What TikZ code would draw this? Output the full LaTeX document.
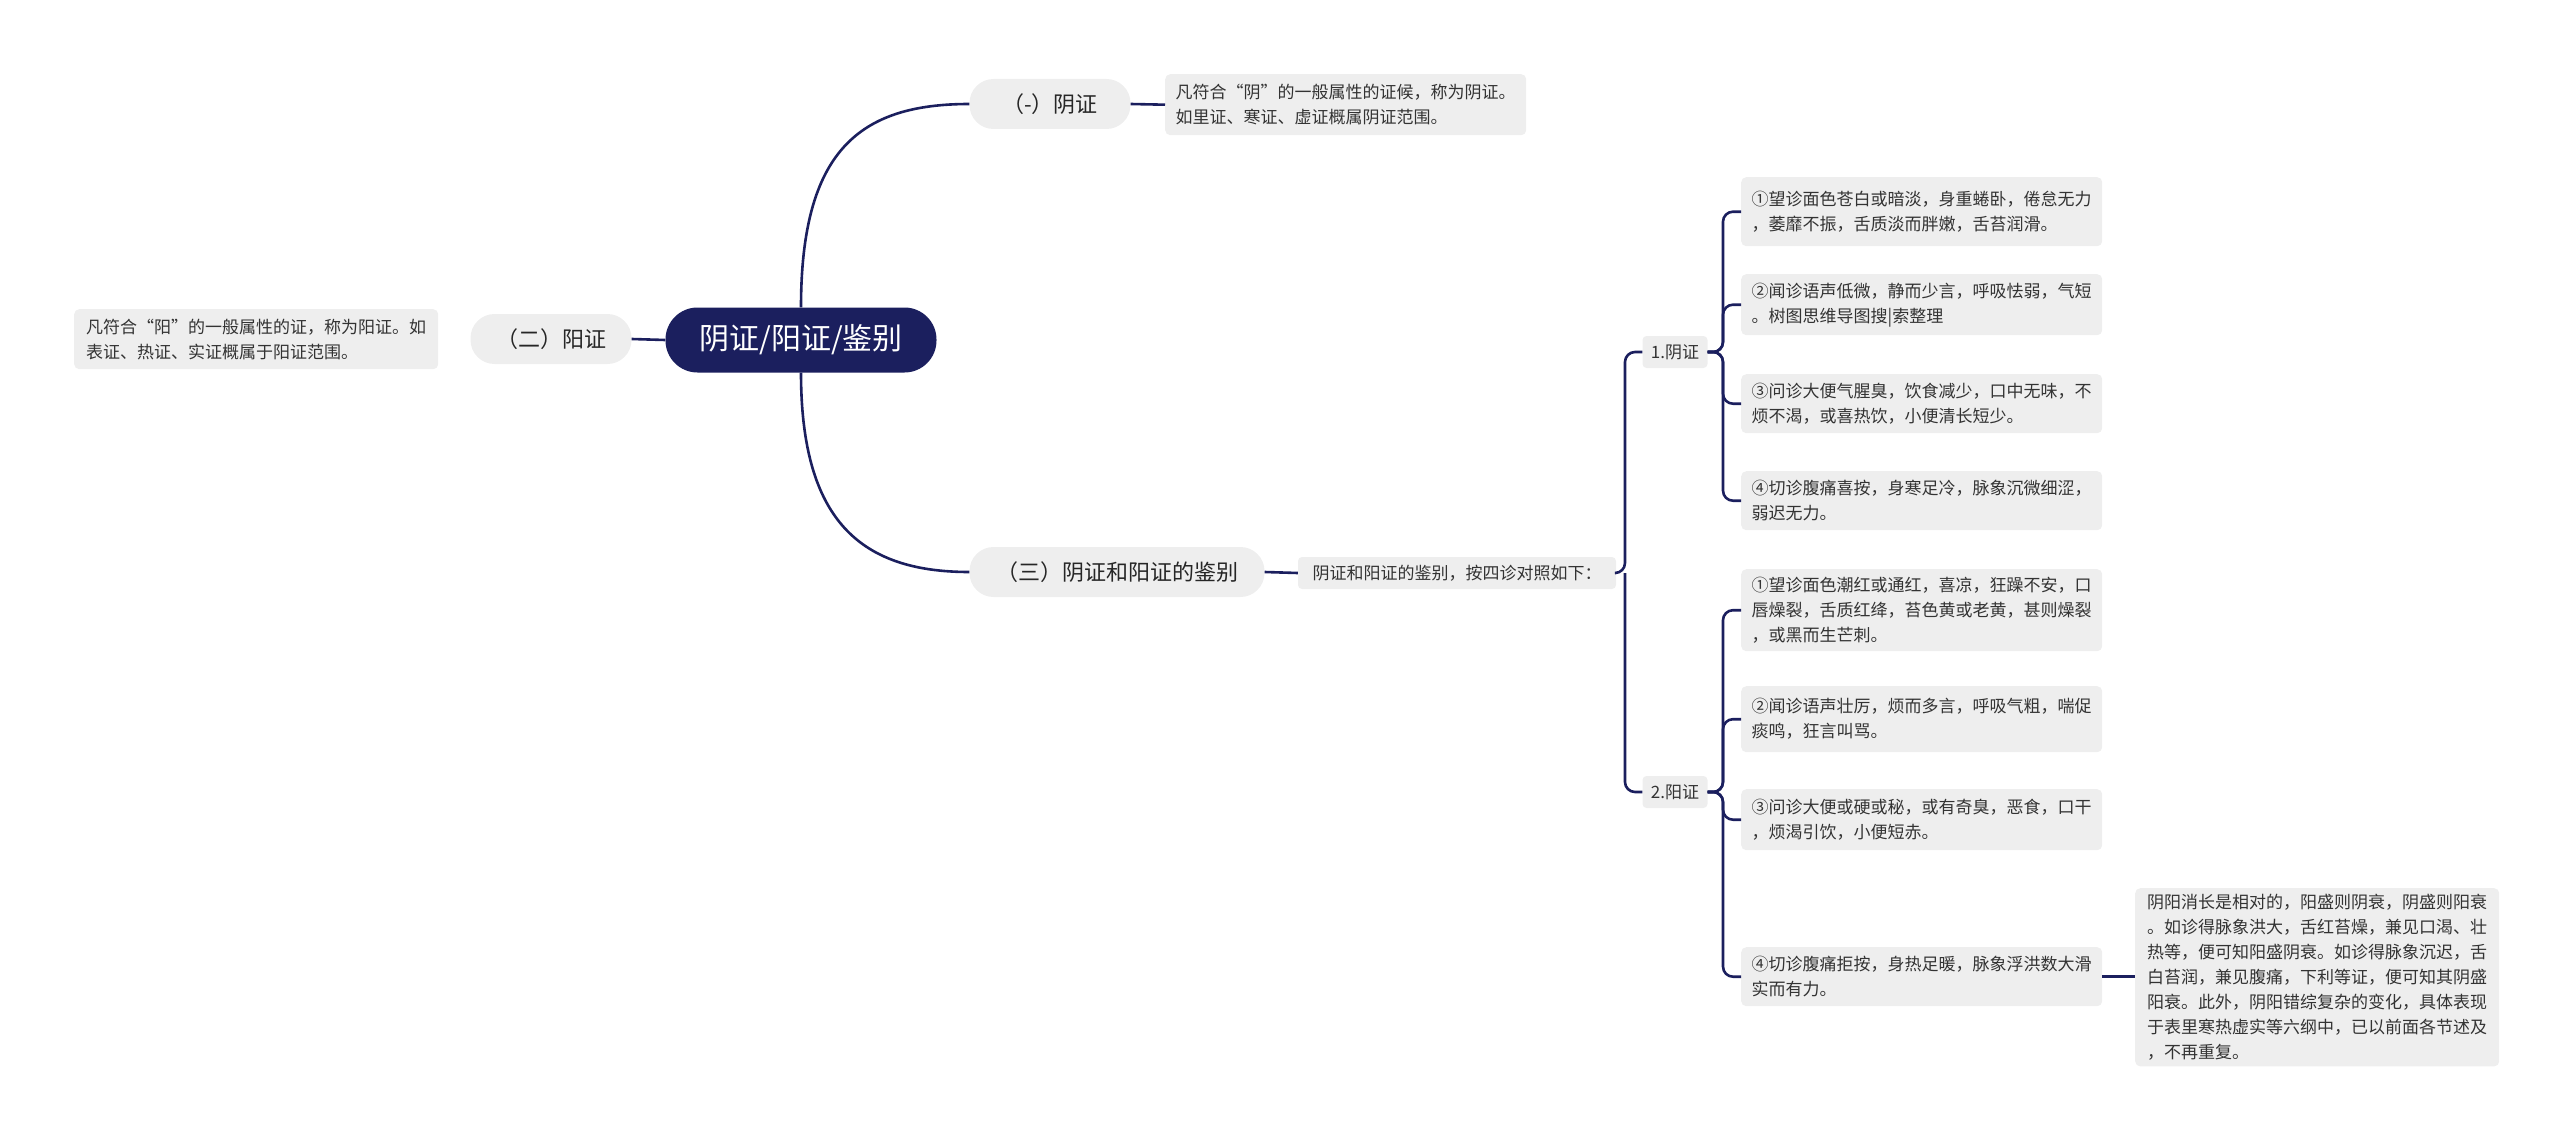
\documentclass[tikz,border=0pt]{standalone}
\usepackage{fontspec}
\setmainfont{Noto Sans CJK SC}
\begin{document}
\begin{tikzpicture}[x=1pt,y=-1pt,
  line/.style={draw=navy,line width=2.6pt},
  br/.style={line,rounded corners=10pt},
  leaf/.style={fill=boxg,rounded corners=5pt,font=\fontsize{17}{25}\selectfont,align=left,inner xsep=8pt,inner ysep=6pt,anchor=north west,text=black!80},
  sub/.style={fill=boxg,rounded corners=24pt,font=\fontsize{22}{26}\selectfont,minimum height=50pt,inner xsep=20pt,text=black!85},
  small/.style={fill=boxg,rounded corners=4pt,font=\fontsize{17}{20}\selectfont,inner xsep=7pt,minimum height=32pt,text=black!80}]
\definecolor{navy}{HTML}{1B1F5E}
\definecolor{boxg}{HTML}{EEEEEE}
\useasboundingbox (0,0) rectangle (2560,1129);
\node[fill=navy,rounded corners=32pt,minimum width=271pt,minimum height=65pt,text=white,font=\fontsize{30}{34}\selectfont] (root) at (801,340) {阴证/阳证/鉴别};
\node[sub,minimum width=161pt] (a) at (1050,104) {（-）阴证};
\node[sub,minimum width=161pt] (b) at (551,339) {（二）阳证};
\node[sub,minimum width=295pt] (c) at (1117,572) {（三）阴证和阳证的鉴别};
\node[leaf,minimum width=361pt,minimum height=61pt] (ad) at (1165,74) {凡符合“阴”的一般属性的证候，称为阴证。\\如里证、寒证、虚证概属阴证范围。};
\node[leaf,minimum width=364pt,minimum height=60pt] (bd) at (74,309) {凡符合“阳”的一般属性的证，称为阳证。如\\表证、热证、实证概属于阳证范围。};
\node[small,minimum width=318pt] (cd) at (1457,573) {阴证和阳证的鉴别，按四诊对照如下：};
\node[small,minimum width=65pt] (yin) at (1675,352) {1.阴证};
\node[small,minimum width=65pt] (yang) at (1675,792) {2.阳证};
\node[leaf,minimum width=361pt,minimum height=69pt] (y1) at (1741,177) {①望诊面色苍白或暗淡，身重蜷卧，倦怠无力\\，萎靡不振，舌质淡而胖嫩，舌苔润滑。};
\node[leaf,minimum width=361pt,minimum height=61pt] (y2) at (1741,274) {②闻诊语声低微，静而少言，呼吸怯弱，气短\\。树图思维导图搜|索整理};
\node[leaf,minimum width=361pt,minimum height=59pt] (y3) at (1741,374) {③问诊大便气腥臭，饮食减少，口中无味，不\\烦不渴，或喜热饮，小便清长短少。};
\node[leaf,minimum width=361pt,minimum height=59pt] (y4) at (1741,471) {④切诊腹痛喜按，身寒足冷，脉象沉微细涩，\\弱迟无力。};
\node[leaf,minimum width=361pt,minimum height=82pt] (z1) at (1741,569) {①望诊面色潮红或通红，喜凉，狂躁不安，口\\唇燥裂，舌质红绛，苔色黄或老黄，甚则燥裂\\，或黑而生芒刺。};
\node[leaf,minimum width=361pt,minimum height=66pt] (z2) at (1741,686) {②闻诊语声壮厉，烦而多言，呼吸气粗，喘促\\痰鸣，狂言叫骂。};
\node[leaf,minimum width=361pt,minimum height=61pt] (z3) at (1741,789) {③问诊大便或硬或秘，或有奇臭，恶食，口干\\，烦渴引饮，小便短赤。};
\node[leaf,minimum width=361pt,minimum height=59pt] (z4) at (1741,947) {④切诊腹痛拒按，身热足暖，脉象浮洪数大滑\\实而有力。};
\node[leaf,minimum width=364pt,minimum height=170pt] (f) at (2135,888) {阴阳消长是相对的，阳盛则阴衰，阴盛则阳衰\\。如诊得脉象洪大，舌红苔燥，兼见口渴、壮\\热等，便可知阳盛阴衰。如诊得脉象沉迟，舌\\白苔润，兼见腹痛，下利等证，便可知其阴盛\\阳衰。此外，阴阳错综复杂的变化，具体表现\\于表里寒热虚实等六纲中，已以前面各节述及\\，不再重复。};
\draw[line] (root.north) .. controls (801,150) and (860,104) .. (a.west);
\draw[line] (root.south) .. controls (801,520) and (860,572) .. (c.west);
\draw[line] (root.west) -- (b.east);
\draw[line] (a.east) -- (ad.west);
\draw[line] (c.east) -- (cd.west);
\coordinate (k1) at (1625,573);
\draw[br] (cd.east) -- (k1) |- (yin.west);
\draw[br] (k1) |- (yang.west);
\foreach \t in {y1,y2,y3,y4} \draw[br] (yin.east) -- (1723,352) |- (\t.west);
\foreach \t in {z1,z2,z3,z4} \draw[br] (yang.east) -- (1723,792) |- (\t.west);
\draw[line] (z4.east) -- (f.west |- z4.east);
\end{tikzpicture}
\end{document}
